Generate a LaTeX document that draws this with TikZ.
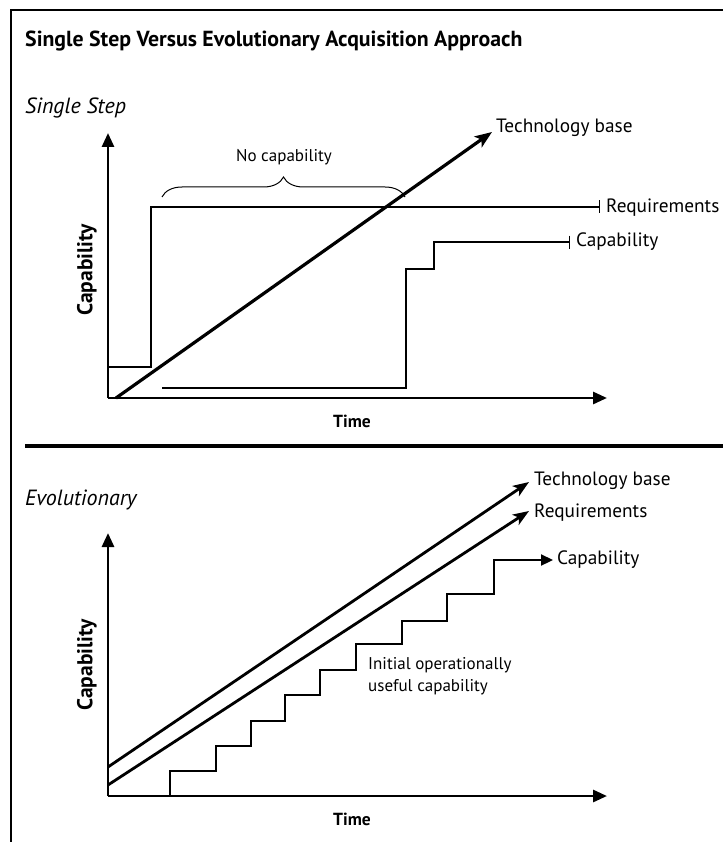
\documentclass[tikz,border=0pt]{standalone}
\usepackage{fontspec}
\setmainfont{PT Sans}
\usetikzlibrary{arrows.meta,decorations.pathreplacing}

\begin{document}
\begin{tikzpicture}[x=1pt,y=-1pt,
  axisline/.style={line width=2.8pt, -{Triangle[length=14pt,width=12pt]}},
  barline/.style={line width=1.9pt, -{Bar[width=13pt,line width=1.4pt]}},
  techarrow/.style={line width=3.2pt, -{Stealth[length=17pt,width=13pt,inset=4pt]}},
  evoline/.style={line width=2.8pt, -{Stealth[length=16pt,width=12pt,inset=4pt]}},
  stairline/.style={line width=2.2pt, -{Triangle[length=12pt,width=11pt]}},
  lbl/.style={font=\fontsize{19.3}{22}\selectfont, inner sep=0pt, anchor=west},
  smalllbl/.style={font=\fontsize{17}{22}\selectfont, inner sep=0pt},
  timelbl/.style={font=\fontsize{17.5}{20}\selectfont\bfseries, inner sep=0pt},
  caplbl/.style={font=\fontsize{21.5}{24}\selectfont\bfseries, inner sep=0pt, rotate=90, anchor=south},
  sectlbl/.style={font=\fontsize{22}{26}\selectfont\itshape, inner sep=0pt, anchor=west},
]
\useasboundingbox (0,0) rectangle (723,842);
\fill[white] (0,0) rectangle (723,842);

% frame and title
\draw[line width=2pt] (11,842) -- (11,10) -- (723,10);
\node[font=\fontsize{21.8}{26}\selectfont\bfseries, inner sep=0pt, anchor=west] (title) at (25,41)
  {Single Step Versus Evolutionary Acquisition Approach};

% ---------------- single step ----------------
\node[sectlbl] (ssname) at (25,108) {Single Step};
\coordinate (o1) at (108,398);
\coordinate (y1) at (108,133);
\coordinate (x1) at (607,398);
\draw[axisline] (o1) -- (y1);
\draw[axisline] (o1) -- (x1);
\node[timelbl] (time1) at (352,421) {Time};
\node[caplbl] (cap1) at (97,270) {Capability};

% requirements jump to a fixed level
\coordinate (r0) at (108,367);
\coordinate (r1) at (151,367);
\coordinate (r2) at (151,207);
\coordinate (r3) at (600,207);
\draw[barline] (r0) -- (r1) -- (r2) -- (r3);
\node[lbl] (req1) at (606,208) {Requirements};

% technology base
\coordinate (t0) at (116,398);
\coordinate (t1) at (492,132);
\draw[techarrow] (t0) -- (t1);
\node[lbl] (tech1) at (496,128) {Technology base};

% delivered capability
\coordinate (c0) at (162,388);
\coordinate (c1) at (406,388);
\coordinate (c2) at (406,269);
\coordinate (c3) at (434,269);
\coordinate (c4) at (434,242);
\coordinate (c5) at (570,242);
\draw[barline] (c0) -- (c1) -- (c2) -- (c3) -- (c4) -- (c5);
\node[lbl] (capl1) at (576,242) {Capability};

% gap with no capability
\coordinate (b0) at (162,197);
\coordinate (b1) at (405,197);
\draw[line width=1pt, decoration={brace, amplitude=20pt, aspect=0.5}, decorate]
  (b0) -- (b1);
\node[smalllbl] (nocap) at (284,157) {No capability};

% separator
\draw[line width=4.5pt] (25,446) -- (723,446);

% ---------------- evolutionary ----------------
\node[sectlbl] (evname) at (25,500) {Evolutionary};
\coordinate (o2) at (108,796);
\coordinate (y2) at (108,533);
\coordinate (x2) at (607,796);
\draw[axisline] (o2) -- (y2);
\draw[axisline] (o2) -- (x2);
\node[timelbl] (time2) at (352,819) {Time};
\node[caplbl] (cap2) at (97,665) {Capability};

\coordinate (e0) at (108,767);
\coordinate (e1) at (529,482);
\draw[evoline] (e0) -- (e1);
\node[lbl] (tech2) at (534,481) {Technology base};

\coordinate (q0) at (108,785);
\coordinate (q1) at (529,511);
\draw[evoline] (q0) -- (q1);
\node[lbl] (req2) at (534,513) {Requirements};

% incremental capability
\draw[stairline] (170,796) -- (170,771) -- (216,771) -- (216,746) -- (251,746) -- (251,721)
  -- (285,721) -- (285,695) -- (320,695) -- (320,670) -- (356,670) -- (356,644)
  -- (402,644) -- (402,621) -- (447,621) -- (447,594) -- (494,594) -- (494,560) -- (553,560);
\node[lbl] (capl2) at (557,560) {Capability};

\node[smalllbl, anchor=west, align=left] (initial) at (368,676) {Initial operationally\\useful capability};
\end{tikzpicture}
\end{document}
